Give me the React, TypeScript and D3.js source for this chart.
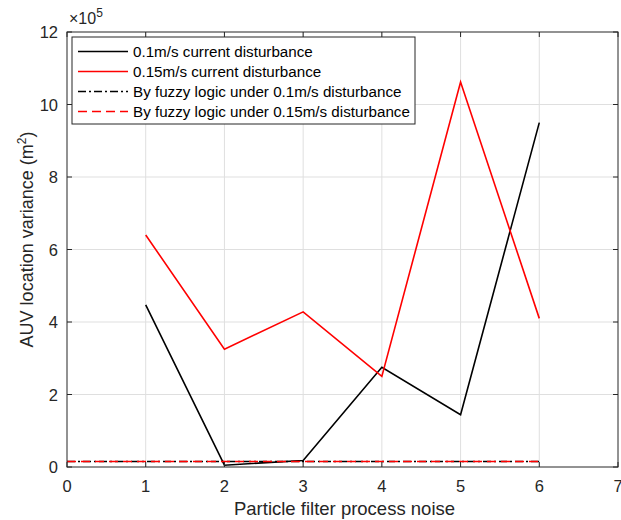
import * as d3 from "d3";

const W = 621;
const H = 520;
const MARGIN = { top: 32, right: 3, bottom: 53, left: 67 };

const xValues = [1, 2, 3, 4, 5, 6];
const current01 = [4.47, 0.05, 0.18, 2.75, 1.44, 9.5];
const current015 = [6.4, 3.25, 4.28, 2.5, 10.62, 4.1];
const fuzzyX = [0, 6];
const fuzzy01 = [0.15, 0.15];
const fuzzy015 = [0.15, 0.15];

const xTicks = [0, 1, 2, 3, 4, 5, 6, 7];
const yTicks = [0, 2, 4, 6, 8, 10, 12];

const FONT = "'Liberation Sans', Arial, Helvetica, sans-serif";

const series = [
  { label: "0.1m/s current disturbance", color: "#000", dash: "", xs: xValues, ys: current01 },
  { label: "0.15m/s current disturbance", color: "#ff0000", dash: "", xs: xValues, ys: current015 },
  { label: "By fuzzy logic under 0.1m/s disturbance", color: "#000", dash: "8 3 2 3", xs: fuzzyX, ys: fuzzy01 },
  { label: "By fuzzy logic under 0.15m/s disturbance", color: "#ff0000", dash: "9 5", xs: fuzzyX, ys: fuzzy015 },
];

export default function App() {
  const boundsWidth = W - MARGIN.left - MARGIN.right;
  const boundsHeight = H - MARGIN.top - MARGIN.bottom;

  const xScale = d3.scaleLinear().domain([0, 7]).range([0, boundsWidth]);
  const yScale = d3.scaleLinear().domain([0, 12]).range([boundsHeight, 0]);

  const line = d3
    .line<[number, number]>()
    .x((d) => xScale(d[0]))
    .y((d) => yScale(d[1]));

  return (
    <svg
      width={W}
      height={H}
      style={{ position: "absolute", left: 0, top: 0, background: "#fff" }}
      fontFamily={FONT}
    >
      <g transform={`translate(${MARGIN.left},${MARGIN.top})`}>
        {/* grid */}
        {xTicks.slice(1, -1).map((t) => (
          <line key={"gx" + t} x1={xScale(t)} x2={xScale(t)} y1={0} y2={boundsHeight} stroke="#dfdfdf" />
        ))}
        {yTicks.slice(1, -1).map((t) => (
          <line key={"gy" + t} x1={0} x2={boundsWidth} y1={yScale(t)} y2={yScale(t)} stroke="#dfdfdf" />
        ))}

        {/* series */}
        {series.map((s, i) => (
          <path
            key={i}
            d={line(s.xs.map((x, j) => [x, s.ys[j]] as [number, number])) || ""}
            fill="none"
            stroke={s.color}
            strokeWidth={1.6}
            strokeDasharray={s.dash || undefined}
          />
        ))}

        {/* box + ticks */}
        <rect x={0} y={0} width={boundsWidth} height={boundsHeight} fill="none" stroke="#262626" strokeWidth={1} />
        {xTicks.map((t) => (
          <g key={"tx" + t}>
            <line x1={xScale(t)} x2={xScale(t)} y1={boundsHeight} y2={boundsHeight - 5} stroke="#262626" />
            <line x1={xScale(t)} x2={xScale(t)} y1={0} y2={5} stroke="#262626" />
            <text x={xScale(t)} y={boundsHeight + 25} textAnchor="middle" fontSize={16.5} fill="#262626">
              {t}
            </text>
          </g>
        ))}
        {yTicks.map((t) => (
          <g key={"ty" + t}>
            <line x1={0} x2={5} y1={yScale(t)} y2={yScale(t)} stroke="#262626" />
            <line x1={boundsWidth} x2={boundsWidth - 5} y1={yScale(t)} y2={yScale(t)} stroke="#262626" />
            <text x={-9} y={yScale(t) + 6} textAnchor="end" fontSize={16.5} fill="#262626">
              {t}
            </text>
          </g>
        ))}

        {/* exponent */}
        <text x={2} y={-8} fontSize={16} fill="#262626">
          ×10
          <tspan dy={-7} fontSize={12}>5</tspan>
        </text>

        {/* axis labels */}
        <text x={boundsWidth / 2 + 2} y={boundsHeight + 48} textAnchor="middle" fontSize={18.5} fill="#262626">
          Particle filter process noise
        </text>
        <text
          transform={`translate(${-34},${boundsHeight / 2 - 10}) rotate(-90)`}
          textAnchor="middle"
          fontSize={18}
          fill="#262626"
        >
          AUV location variance (m
          <tspan dy={-7} fontSize={12}>2</tspan>
          <tspan dy={7}>)</tspan>
        </text>

        {/* legend */}
        <g transform="translate(5,5)">
          <rect x={0} y={0} width={343} height={87} fill="#fff" stroke="#262626" strokeWidth={1} />
          {series.map((s, i) => (
            <g key={"lg" + i} transform={`translate(0,${14.5 + i * 20})`}>
              <line x1={6} x2={56} y1={0} y2={0} stroke={s.color} strokeWidth={1.6} strokeDasharray={s.dash || undefined} />
              <text x={61} y={5.5} fontSize={15.2} fill="#000">
                {s.label}
              </text>
            </g>
          ))}
        </g>
      </g>
    </svg>
  );
}
